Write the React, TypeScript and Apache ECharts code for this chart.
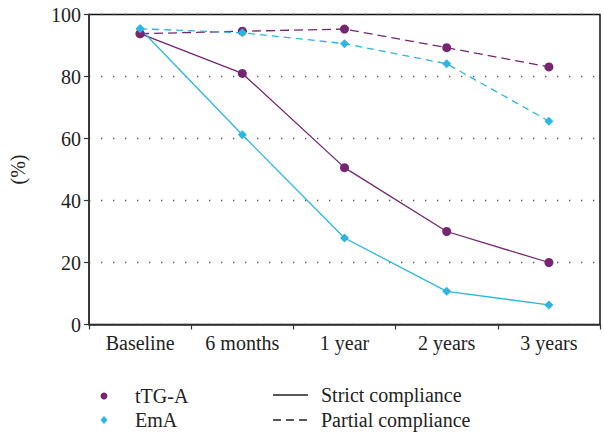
import React, { useEffect, useRef } from "react";
import * as echarts from "echarts";

const categories = ["Baseline", "6 months", "1 year", "2 years", "3 years"];
const ttgStrict = [93.8, 81.0, 50.6, 30.0, 20.0];
const ttgPartial = [93.8, 94.6, 95.3, 89.3, 83.1];
const emaStrict = [95.4, 61.2, 27.9, 10.7, 6.3];
const emaPartial = [95.4, 94.1, 90.6, 84.1, 65.6];
const yTicks = [0, 20, 40, 60, 80, 100];

const PURPLE = "#762572";
const CYAN = "#2db6e1";
const FONT = "Liberation Serif";
const FS = 20;

export default function App() {
  const ref = useRef<HTMLDivElement>(null);

  useEffect(() => {
    if (!ref.current) return;
    const chart = echarts.init(ref.current, null, { renderer: "svg" });

    const line = (name: string, data: number[], color: string, dash: number[] | null, symbol: string, size: number) => ({
      name,
      type: "line",
      data,
      symbol,
      symbolSize: size,
      itemStyle: { color },
      lineStyle: { color, width: 1.3, type: dash ? dash : "solid" },
      z: dash ? 3 : 4,
    });

    const textStyle = { fontFamily: FONT, fontSize: FS, fill: "#222" };

    chart.setOption({
      animation: false,
      grid: {
        left: 86,
        right: 4,
        top: 14.5,
        bottom: 109.5,
        show: true,
        borderColor: "#111",
        borderWidth: 1.5,
        backgroundColor: "transparent",
      },
      xAxis: {
        type: "category",
        data: categories,
        boundaryGap: true,
        axisLine: { lineStyle: { color: "#333", width: 1.5 } },
        axisTick: { show: true, inside: false, length: 5, lineStyle: { color: "#333", width: 1.2 } },
        axisLabel: { fontFamily: FONT, fontSize: FS, color: "#222", margin: 8 },
        splitLine: { show: false },
      },
      yAxis: {
        type: "value",
        min: yTicks[0],
        max: yTicks[yTicks.length - 1],
        interval: 20,
        name: "(%)",
        nameLocation: "middle",
        nameGap: 61,
        nameTextStyle: { fontFamily: FONT, fontSize: FS, color: "#222" },
        axisLine: { show: true, lineStyle: { color: "#333", width: 1.5 } },
        axisTick: { show: true, inside: false, length: 5, lineStyle: { color: "#333", width: 1.2 } },
        axisLabel: { fontFamily: FONT, fontSize: FS, color: "#222", margin: 8 },
        splitLine: {
          show: true,
          lineStyle: { color: "#555", width: 1.3, type: [1.3, 10.7] },
        },
      },
      series: [
        line("tTG-A partial", ttgPartial, PURPLE, [9, 5], "circle", 9),
        line("EmA partial", emaPartial, CYAN, [7, 5], "diamond", 9),
        line("tTG-A strict", ttgStrict, PURPLE, null, "circle", 9),
        line("EmA strict", emaStrict, CYAN, null, "diamond", 9),
      ],
      graphic: [
        { type: "circle", shape: { cx: 104, cy: 396, r: 3.5 }, style: { fill: PURPLE } },
        {
          type: "polygon",
          shape: { points: [[104, 416], [107.5, 420], [104, 424], [100.5, 420]] },
          style: { fill: CYAN },
        },
        { type: "text", x: 135, y: 396, style: { ...textStyle, text: "tTG-A", verticalAlign: "middle" } },
        { type: "text", x: 135, y: 420, style: { ...textStyle, text: "EmA", verticalAlign: "middle" } },
        { type: "line", shape: { x1: 273, y1: 395, x2: 308, y2: 395 }, style: { stroke: "#222", lineWidth: 1.3 } },
        {
          type: "line",
          shape: { x1: 273, y1: 420, x2: 308, y2: 420 },
          style: { stroke: "#222", lineWidth: 1.3, lineDash: [8, 5] },
        },
        { type: "text", x: 321, y: 395, style: { ...textStyle, text: "Strict compliance", verticalAlign: "middle" } },
        { type: "text", x: 321, y: 420, style: { ...textStyle, text: "Partial compliance", verticalAlign: "middle" } },
      ],
    });

    return () => chart.dispose();
  }, []);

  return <div ref={ref} style={{ width: 604, height: 434, position: "absolute", left: 0, top: 0 }} />;
}
